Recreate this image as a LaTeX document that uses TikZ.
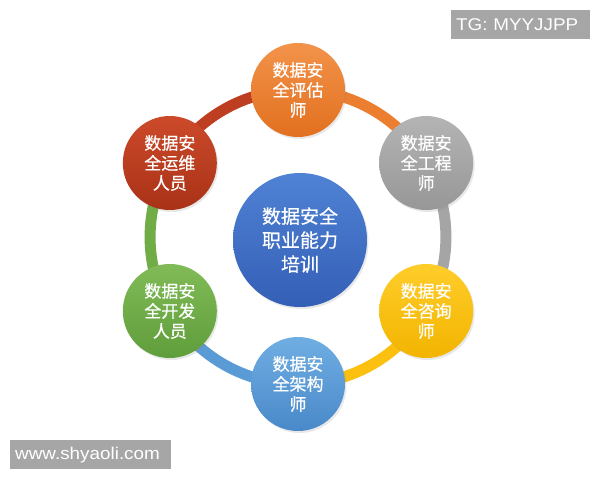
\documentclass[tikz,border=0pt]{standalone}
\usepackage{fontspec}
\setmainfont{Liberation Sans}
\newfontfamily\wmfont[FakeStretch=1.11]{Liberation Sans}
\newfontfamily\cjk[FakeBold=0.6]{Noto Sans CJK SC}
\usetikzlibrary{shadows,backgrounds,calc}
\definecolor{orT}{HTML}{F2934A}\definecolor{orB}{HTML}{E2701F}\definecolor{orM}{HTML}{EC7E30}
\definecolor{grT}{HTML}{B4B4B4}\definecolor{grB}{HTML}{979797}\definecolor{grM}{HTML}{A5A5A5}
\definecolor{yeT}{HTML}{FFCD2A}\definecolor{yeB}{HTML}{F2B400}\definecolor{yeM}{HTML}{FBC010}
\definecolor{blT}{HTML}{6FAEE2}\definecolor{blB}{HTML}{4A89C9}\definecolor{blM}{HTML}{5B9BD5}
\definecolor{gnT}{HTML}{80BB57}\definecolor{gnB}{HTML}{609E3B}\definecolor{gnM}{HTML}{70AD47}
\definecolor{rdT}{HTML}{CC4A2A}\definecolor{rdB}{HTML}{A93217}\definecolor{rdM}{HTML}{BE3E22}
\definecolor{ceT}{HTML}{4F82D4}\definecolor{ceB}{HTML}{345FB6}
\definecolor{wmgray}{HTML}{A6A6A6}
\begin{document}
\begin{tikzpicture}[x=1pt,y=1pt,
  sat/.style={circle, minimum size=94pt, inner sep=0pt, text=white, align=center,
    font=\cjk\fontsize{17}{20}\selectfont,
    drop shadow={opacity=0.18, shadow xshift=1.5pt, shadow yshift=-2pt}},
  ring/.style={line width=11pt, bend left=30, looseness=0.913},
  wm/.style={fill=wmgray, text=white, font=\wmfont\fontsize{17}{20}\selectfont,
    inner xsep=5pt, inner ysep=0pt, minimum height=29pt, align=left, anchor=north west}]
\useasboundingbox (0,0) rectangle (600,480);
\coordinate (C) at (298,243);
\node[sat, top color=orT, bottom color=orB] (o) at ($(C)+(90:147)$) {数据安\\全评估\\师};
\node[sat, top color=grT, bottom color=grB] (g) at ($(C)+(30:148)$) {数据安\\全工程\\师};
\node[sat, top color=yeT, bottom color=yeB] (y) at ($(C)+(-30:148)$) {数据安\\全咨询\\师};
\node[sat, top color=blT, bottom color=blB] (b) at ($(C)+(-90:147)$) {数据安\\全架构\\师};
\node[sat, top color=gnT, bottom color=gnB] (n) at ($(C)+(210:148)$) {数据安\\全开发\\人员};
\node[sat, top color=rdT, bottom color=rdB] (r) at ($(C)+(150:148)$) {数据安\\全运维\\人员};
\node[circle, minimum size=134pt, inner sep=0pt, text=white, align=center,
  font=\cjk\fontsize{19}{24}\selectfont, top color=ceT, bottom color=ceB,
  drop shadow={opacity=0.18, shadow xshift=1.5pt, shadow yshift=-2pt}]
  (m) at (300,240) {\raisebox{2pt}{\parbox{100pt}{\centering 数据安全\\职业能力\\培训}}};
\begin{scope}[on background layer]
\fill[white] (0,0) rectangle (600,480);
\draw[ring, draw=rdM] (r.center) to (o.center);
\draw[ring, draw=orM] (o.center) to (g.center);
\draw[ring, draw=grM] (g.center) to (y.center);
\draw[ring, draw=yeM] (y.center) to (b.center);
\draw[ring, draw=blM] (b.center) to (n.center);
\draw[ring, draw=gnM] (n.center) to (r.center);
\end{scope}
\node[wm, text width=129pt] (t1) at (451,470) {TG: MYYJJPP};
\node[wm, text width=151pt] (t2) at (10,40) {www.shyaoli.com};
\end{tikzpicture}
\end{document}
